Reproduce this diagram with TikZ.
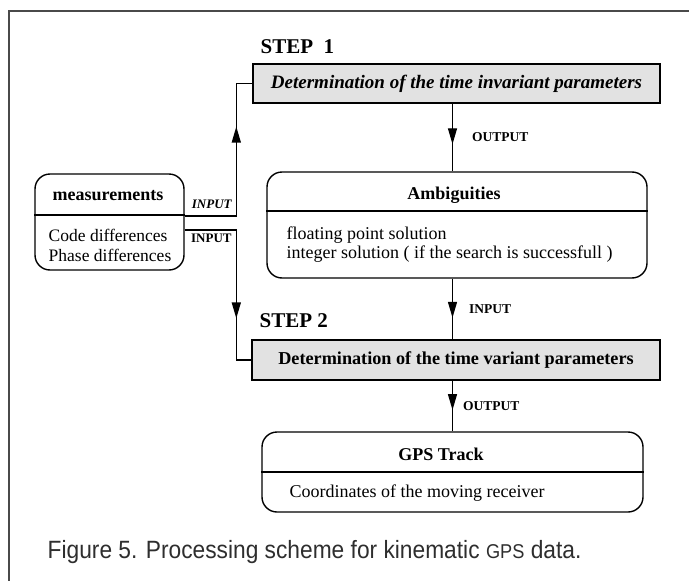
\documentclass[tikz,border=0pt]{standalone}
\usepackage{fontspec}
\setmainfont{Liberation Serif}
\newfontfamily\capfont[FakeStretch=0.91]{Liberation Sans}
\usetikzlibrary{arrows.meta,positioning,calc,decorations.markings}
\definecolor{StepGray}{HTML}{E2E2E2}
\definecolor{FrameGray}{HTML}{4A4A4A}
\definecolor{CaptionInk}{HTML}{2E2E2E}

\begin{document}
\begin{tikzpicture}[x=1pt, y=-1pt, line width=1.4pt,
   stepbox/.style={draw, fill=StepGray, minimum width=407pt, minimum height=39pt,
                   inner sep=0pt, font=\fontsize{18.2}{20}\selectfont\bfseries},
   objbox/.style={draw, rounded corners=15pt, inner sep=0pt},
   ttl/.style={font=\fontsize{18}{20}\selectfont\bfseries, inner sep=0pt},
   txt/.style={font=\fontsize{18}{19.5}\selectfont, align=left, inner sep=0pt, anchor=west},
   lbl/.style={font=\fontsize{13.5}{15}\selectfont\bfseries, inner sep=0pt},
   steplbl/.style={font=\fontsize{21}{24}\selectfont\bfseries, inner sep=0pt, anchor=base west},
   midtip/.style={postaction={decorate}, decoration={markings,
       mark=at position #1 with {\arrow{Triangle[length=16pt, width=9pt]}}}}]
  \useasboundingbox (0,0) rectangle (689,581);
  % frame of the figure
  \draw[FrameGray, line width=1.4pt] (689,11) -- (9,11) -- (9,581);

  % the two processing steps
  \node[steplbl] (st1) at (260,53) {STEP\ \ 1};
  \node[stepbox, font=\fontsize{19}{20}\selectfont\bfseries\itshape] (s1) at (456.5,83.5)
    {Determination of the time invariant parameters};
  \node[steplbl] (st2) at (259,327) {STEP 2};
  \node[stepbox, minimum width=408pt, minimum height=40pt] (s2) at (456,360)
    {Determination of the time variant parameters};

  % data boxes
  \node[objbox, minimum width=149pt, minimum height=96pt] (meas) at (109.5,222) {};
  \draw ([yshift=7pt]meas.west) -- ([yshift=7pt]meas.east);
  \node[ttl] (meas-t) at (108,196) {measurements};
  \node[txt, font=\fontsize{17.5}{19.5}\selectfont] (meas-b) at (48,245.5)
    {Code differences\\Phase differences};

  \node[objbox, minimum width=380pt, minimum height=106pt] (amb) at (457,225) {};
  \draw ([yshift=14pt]amb.west) -- ([yshift=14pt]amb.east);
  \node[ttl] (amb-t) at (454,195) {Ambiguities};
  \node[txt] (amb-b) at (286,244.5)
    {floating point solution\\integer solution ( if the search is successfull )};

  \node[objbox, minimum width=381pt, minimum height=80pt] (gps) at (452.5,472) {};
  \draw (gps.west) -- (gps.east);
  \node[ttl] (gps-t) at (441,454) {GPS Track};
  \node[txt] (gps-b) at (289,493) {Coordinates of the moving receiver};

  % flow
  \draw[midtip=0.6] (s1.south -| gps.north) --
    node[lbl, right=19pt] {OUTPUT} (amb.north -| gps.north);
  \draw[midtip=0.645] (amb.south -| gps.north) --
    node[lbl, right=16pt] {INPUT} (s2.north -| gps.north);
  \draw[midtip=0.58] (s2.south -| gps.north) --
    node[lbl, right=10pt] {OUTPUT} (gps.north);
  \draw[midtip=141pt] ([yshift=6pt]meas.east) -|
    node[lbl, font=\fontsize{13}{15}\selectfont\bfseries\itshape, pos=0.5,
         above left=6.5pt and 4pt] {INPUT}
    ([xshift=-16pt]s1.west) -- (s1.west);
  \draw[midtip=140pt] ([yshift=-8pt]meas.east) -|
    node[lbl, font=\fontsize{13}{15}\selectfont\bfseries, pos=0.5,
         below left=3.5pt and 4pt] {INPUT}
    ([xshift=-15pt]s2.west) -- (s2.west);

  % caption
  \node[anchor=base west, inner sep=0pt, text=CaptionInk,
        font=\capfont\fontsize{25}{28}\selectfont] (cap) at (47,558)
    {Figure 5. Processing scheme for kinematic {\fontsize{20}{22}\selectfont GPS} data.};
\end{tikzpicture}
\end{document}
